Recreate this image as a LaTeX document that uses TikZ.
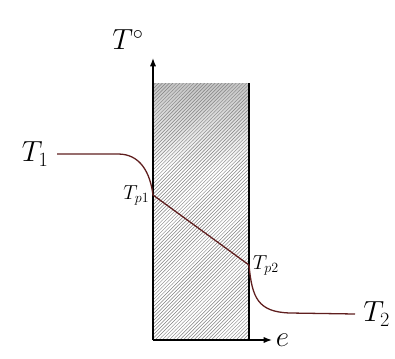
\documentclass[tikz,border=0pt]{standalone}
\usepackage{amsmath,amssymb}
\usepackage{tikz}
\usetikzlibrary{positioning,arrows.meta,patterns}

\begin{document}
\begin{tikzpicture}[
    x=0.03cm, y=-0.03cm,
    axis/.style={-{Latex[length=2.5mm]}, line width=1.1pt},
    wall/.style={line width=1.1pt},
    profile/.style={line width=1.1pt, draw=tempred},
    biglabel/.style={font=\fontsize{24}{28}\selectfont, inner sep=1pt},
    smalllabel/.style={font=\fontsize{17}{20}\selectfont, inner sep=1pt}
]
\definecolor{tempred}{RGB}{95,30,30}
\useasboundingbox (0,0) rectangle (395,358);

% wall corners
\coordinate (origin) at (153,340);
\coordinate (wtl) at (153,83);
\coordinate (wtr) at (249,83);
\coordinate (wbr) at (249,340);
\coordinate (ytip) at (153,58);
\coordinate (xtip) at (272,340);

% hatched wall, darker near the top
\shade[top color=gray!45, bottom color=white] (wtl) rectangle (249,170);
\fill[pattern=north east lines, pattern color=gray] (origin) rectangle (wtr);

\draw[wall] (wtr) -- (wbr);
\draw[axis] (origin) -- (ytip);
\draw[axis] (origin) -- (xtip);

% profile points
\coordinate (t1start) at (57,154);
\coordinate (tp1) at (153,195);
\coordinate (tp2) at (249,265);
\coordinate (t2end) at (355,314);

\draw[profile] (t1start) -- (118,154)
    .. controls (140,154) and (150,172) .. (tp1)
    -- (tp2)
    .. controls (252,298) and (258,312) .. (290,313) -- (t2end);

% labels
\node[biglabel] (tdeg) at (128,40) {$T^\circ$};
\node[biglabel, left=6pt of t1start] (t1) {$T_1$};
\node[biglabel, right=6pt of t2end] (t2) {$T_2$};
\node[smalllabel, left=2pt of tp1] (tp1lab) {$T_{p1}$};
\node[smalllabel, right=2pt of tp2] (tp2lab) {$T_{p2}$};
\node[biglabel, right=2pt of xtip] (elab) {$e$};
\end{tikzpicture}
\end{document}
